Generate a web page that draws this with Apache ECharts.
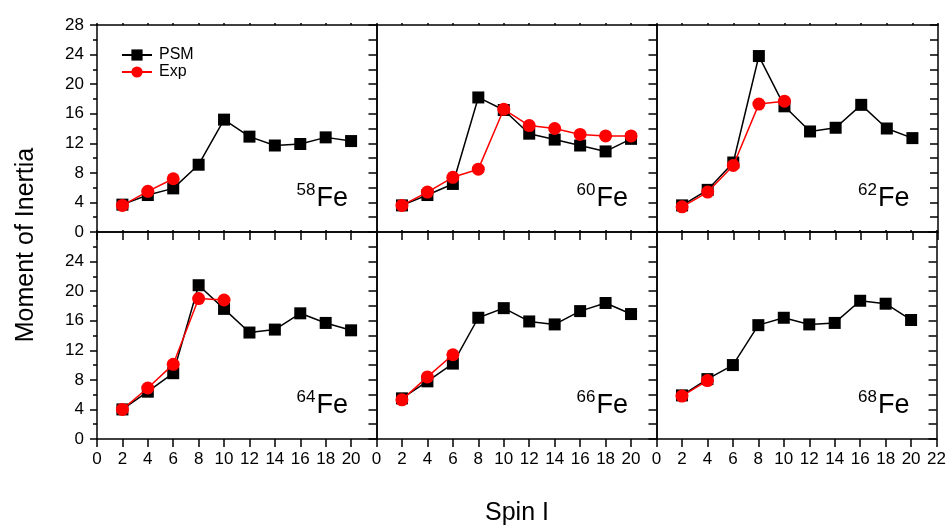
<!DOCTYPE html>
<html><head><meta charset="utf-8">
<script src="https://cdn.jsdelivr.net/npm/echarts@6/dist/echarts.min.js"></script>
<style>html,body{margin:0;padding:0;background:#fff}#c{width:949px;height:526px}</style>
</head><body><div id="c"></div>
<script>
const spin = [2,4,6,8,10,12,14,16,18,20];
const nuclei = ['58','60','62','64','66','68'];
const psm58 = [3.7,5.0,5.9,9.1,15.2,12.9,11.7,11.9,12.8,12.3];
const exp58 = [3.6,5.5,7.2];
const psm60 = [3.6,5.0,6.5,18.2,16.5,13.3,12.5,11.7,10.9,12.6];
const exp60 = [3.6,5.4,7.4,8.5,16.6,14.4,14.0,13.2,13.0,13.0];
const psm62 = [3.6,5.7,9.4,23.8,17.0,13.6,14.1,17.2,14.0,12.7];
const exp62 = [3.4,5.4,9.0,17.3,17.7];
const psm64 = [4.0,6.4,8.9,20.8,17.6,14.4,14.8,17.0,15.7,14.7];
const exp64 = [4.0,6.9,10.1,19.0,18.8];
const psm66 = [5.5,7.8,10.2,16.4,17.7,15.9,15.5,17.3,18.4,16.9];
const exp66 = [5.3,8.4,11.4];
const psm68 = [5.9,8.1,10.0,15.4,16.4,15.5,15.7,18.7,18.3,16.1];
const exp68 = [5.8,7.9];

const psmAll = [psm58,psm60,psm62,psm64,psm66,psm68];
const expAll = [exp58,exp60,exp62,exp64,exp66,exp68];

const FONT = "'Liberation Sans', Arial, sans-serif";
const cols = [{left:97,width:279.5},{left:376.5,width:280},{left:656.5,width:281.5}];
const rows = [{top:25,height:207},{top:232,height:207}];
const axisLine = {show:true,onZero:false,lineStyle:{color:'#000',width:1.5}};
const tickStyle = {color:'#000',width:1.5};

const grid=[],xAxis=[],yAxis=[],series=[],graphic=[];
for(let i=0;i<6;i++){
  const r=Math.floor(i/3), c=i%3;
  grid.push({left:cols[c].left,top:rows[r].top,width:cols[c].width,height:rows[r].height,show:false,containLabel:false});
  xAxis.push({gridIndex:i,type:'value',min:0,max:22,interval:2,position:'bottom',
    axisLine,axisTick:{show:true,length:8,lineStyle:tickStyle},
    axisLabel:{show:r===1,fontSize:17,color:'#000',fontFamily:FONT,margin:12,showMaxLabel:c===2,showMinLabel:true},
    splitLine:{show:false}});
  xAxis.push({gridIndex:i,type:'value',min:0,max:22,interval:2,position:'top',
    axisLine,axisTick:{show:true,length:2,lineStyle:tickStyle},axisLabel:{show:false},splitLine:{show:false}});
  yAxis.push({gridIndex:i,type:'value',min:0,max:28,interval:4,position:'left',
    axisLine,axisTick:{show:true,length:7,lineStyle:tickStyle},
    minorTick:{show:true,splitNumber:2,length:4,lineStyle:tickStyle},
    axisLabel:{show:c===0,fontSize:17,color:'#000',fontFamily:FONT,margin:13,showMaxLabel:r===0,showMinLabel:true},
    splitLine:{show:false},minorSplitLine:{show:false}});
  yAxis.push({gridIndex:i,type:'value',min:0,max:28,interval:2,position:'right',
    axisLine,axisTick:{show:true,inside:true,length:8,lineStyle:tickStyle},axisLabel:{show:false},splitLine:{show:false}});
  series.push({name:'PSM',type:'line',xAxisIndex:2*i,yAxisIndex:2*i,
    data:spin.map((s,k)=>[s,psmAll[i][k]]),symbol:'rect',symbolSize:12,
    itemStyle:{color:'#000'},lineStyle:{color:'#000',width:1.5},z:3});
  series.push({name:'Exp',type:'line',xAxisIndex:2*i,yAxisIndex:2*i,
    data:expAll[i].map((v,k)=>[spin[k],v]),symbol:'circle',symbolSize:13,
    itemStyle:{color:'#ff0000'},lineStyle:{color:'#ff0000',width:1.5},z:4});
  const right=cols[c].left+cols[c].width, bottom=rows[r].top+rows[r].height;
  graphic.push({type:'text',x:right-60,y:bottom-33,style:{text:'Fe',font:'27px '+FONT,fill:'#000',align:'left',verticalAlign:'middle'}});
  graphic.push({type:'text',x:right-80,y:bottom-42,style:{text:nuclei[i],font:'17px '+FONT,fill:'#000',align:'left',verticalAlign:'middle'}});
}
graphic.push({type:'text',x:26,y:245,rotation:Math.PI/2,style:{text:'Moment of Inertia',font:'25px '+FONT,fill:'#000',align:'center',verticalAlign:'middle'}});
graphic.push({type:'text',x:517,y:513,style:{text:'Spin I',font:'25px '+FONT,fill:'#000',align:'center',verticalAlign:'middle'}});

const chart=echarts.init(document.getElementById('c'),null,{renderer:'canvas'});
chart.setOption({
  animation:false,backgroundColor:'#fff',
  grid,xAxis,yAxis,series,graphic,
  legend:{data:['PSM','Exp'],orient:'vertical',left:121,top:47,itemWidth:30,itemHeight:14,itemGap:1,padding:0,
    textStyle:{fontSize:16,color:'#000',fontFamily:FONT,padding:[0,0,0,2]},selectedMode:false}
});
</script></body></html>
